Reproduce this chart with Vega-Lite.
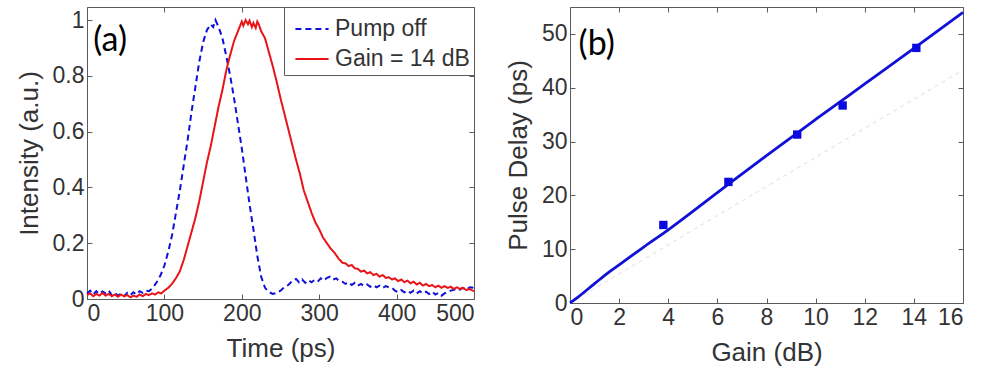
{
  "$schema": "https://vega.github.io/schema/vega-lite/v6.json",
  "padding": {"left": 15, "top": 6, "right": 5, "bottom": 5},
  "bounds": "flush",
  "spacing": 96,
  "resolve": {"legend": {"color": "independent", "strokeDash": "independent"}},
  "config": {
    "font": "Liberation Sans",
    "view": {"stroke": "#5a5a5a", "strokeWidth": 1},
    "axis": {"grid": false, "domain": false, "tickColor": "#5a5a5a", "tickSize": -5, "labelFontSize": 23, "labelColor": "#333", "labelFont": "Liberation Sans", "titleFontSize": 26, "titleFont": "Liberation Sans", "titleColor": "#333", "titleFontWeight": "normal", "labelPadding": 8, "titlePadding": 10},
    "legend": {"orient": "top-right", "offset": 0, "strokeColor": "#5a5a5a", "fillColor": "white", "padding": 4, "labelFontSize": 23, "labelFont": "Liberation Sans", "labelColor": "#333", "symbolType": "stroke", "symbolStrokeWidth": 2, "symbolSize": 1100, "symbolOffset": 6, "labelOffset": 5, "rowPadding": 0}
  },
  "datasets": {
    "pulses": [
      {"t":0,"v":0.02,"s":"Pump off"},{"t":4,"v":0.03,"s":"Pump off"},{"t":8,"v":0.016,"s":"Pump off"},{"t":12,"v":0.028,"s":"Pump off"},{"t":16,"v":0.018,"s":"Pump off"},{"t":20,"v":0.027,"s":"Pump off"},{"t":24,"v":0.02,"s":"Pump off"},{"t":28,"v":0.03,"s":"Pump off"},{"t":32,"v":0.014,"s":"Pump off"},{"t":36,"v":0.022,"s":"Pump off"},{"t":40,"v":0.012,"s":"Pump off"},{"t":44,"v":0.02,"s":"Pump off"},{"t":48,"v":0.01,"s":"Pump off"},{"t":52,"v":0.022,"s":"Pump off"},{"t":56,"v":0.014,"s":"Pump off"},{"t":60,"v":0.024,"s":"Pump off"},{"t":64,"v":0.016,"s":"Pump off"},{"t":68,"v":0.028,"s":"Pump off"},{"t":72,"v":0.022,"s":"Pump off"},{"t":76,"v":0.03,"s":"Pump off"},{"t":80,"v":0.028,"s":"Pump off"},{"t":85,"v":0.04,"s":"Pump off"},{"t":90,"v":0.06,"s":"Pump off"},{"t":95,"v":0.085,"s":"Pump off"},{"t":100,"v":0.12,"s":"Pump off"},{"t":105,"v":0.17,"s":"Pump off"},{"t":110,"v":0.23,"s":"Pump off"},{"t":115,"v":0.31,"s":"Pump off"},{"t":120,"v":0.39,"s":"Pump off"},{"t":125,"v":0.48,"s":"Pump off"},{"t":130,"v":0.57,"s":"Pump off"},{"t":135,"v":0.67,"s":"Pump off"},{"t":140,"v":0.76,"s":"Pump off"},{"t":145,"v":0.85,"s":"Pump off"},{"t":150,"v":0.92,"s":"Pump off"},{"t":155,"v":0.965,"s":"Pump off"},{"t":160,"v":0.985,"s":"Pump off"},{"t":163,"v":0.975,"s":"Pump off"},{"t":166,"v":1.0,"s":"Pump off"},{"t":170,"v":0.975,"s":"Pump off"},{"t":175,"v":0.935,"s":"Pump off"},{"t":180,"v":0.87,"s":"Pump off"},{"t":185,"v":0.8,"s":"Pump off"},{"t":190,"v":0.72,"s":"Pump off"},{"t":195,"v":0.63,"s":"Pump off"},{"t":200,"v":0.54,"s":"Pump off"},{"t":205,"v":0.44,"s":"Pump off"},{"t":210,"v":0.34,"s":"Pump off"},{"t":215,"v":0.25,"s":"Pump off"},{"t":220,"v":0.155,"s":"Pump off"},{"t":225,"v":0.08,"s":"Pump off"},{"t":230,"v":0.04,"s":"Pump off"},{"t":235,"v":0.025,"s":"Pump off"},{"t":240,"v":0.018,"s":"Pump off"},{"t":245,"v":0.022,"s":"Pump off"},{"t":250,"v":0.03,"s":"Pump off"},{"t":255,"v":0.042,"s":"Pump off"},{"t":260,"v":0.05,"s":"Pump off"},{"t":265,"v":0.064,"s":"Pump off"},{"t":270,"v":0.072,"s":"Pump off"},{"t":274,"v":0.06,"s":"Pump off"},{"t":278,"v":0.07,"s":"Pump off"},{"t":282,"v":0.058,"s":"Pump off"},{"t":286,"v":0.068,"s":"Pump off"},{"t":290,"v":0.06,"s":"Pump off"},{"t":294,"v":0.068,"s":"Pump off"},{"t":298,"v":0.062,"s":"Pump off"},{"t":302,"v":0.074,"s":"Pump off"},{"t":306,"v":0.066,"s":"Pump off"},{"t":310,"v":0.076,"s":"Pump off"},{"t":314,"v":0.08,"s":"Pump off"},{"t":318,"v":0.07,"s":"Pump off"},{"t":322,"v":0.074,"s":"Pump off"},{"t":326,"v":0.064,"s":"Pump off"},{"t":330,"v":0.062,"s":"Pump off"},{"t":334,"v":0.054,"s":"Pump off"},{"t":338,"v":0.06,"s":"Pump off"},{"t":342,"v":0.05,"s":"Pump off"},{"t":346,"v":0.058,"s":"Pump off"},{"t":350,"v":0.048,"s":"Pump off"},{"t":354,"v":0.054,"s":"Pump off"},{"t":358,"v":0.046,"s":"Pump off"},{"t":362,"v":0.052,"s":"Pump off"},{"t":366,"v":0.044,"s":"Pump off"},{"t":370,"v":0.05,"s":"Pump off"},{"t":374,"v":0.042,"s":"Pump off"},{"t":378,"v":0.048,"s":"Pump off"},{"t":382,"v":0.04,"s":"Pump off"},{"t":386,"v":0.046,"s":"Pump off"},{"t":390,"v":0.042,"s":"Pump off"},{"t":394,"v":0.04,"s":"Pump off"},{"t":398,"v":0.03,"s":"Pump off"},{"t":402,"v":0.024,"s":"Pump off"},{"t":406,"v":0.032,"s":"Pump off"},{"t":410,"v":0.024,"s":"Pump off"},{"t":414,"v":0.03,"s":"Pump off"},{"t":418,"v":0.022,"s":"Pump off"},{"t":422,"v":0.03,"s":"Pump off"},{"t":426,"v":0.02,"s":"Pump off"},{"t":430,"v":0.028,"s":"Pump off"},{"t":434,"v":0.02,"s":"Pump off"},{"t":438,"v":0.026,"s":"Pump off"},{"t":442,"v":0.018,"s":"Pump off"},{"t":446,"v":0.026,"s":"Pump off"},{"t":450,"v":0.016,"s":"Pump off"},{"t":454,"v":0.022,"s":"Pump off"},{"t":458,"v":0.012,"s":"Pump off"},{"t":462,"v":0.02,"s":"Pump off"},{"t":466,"v":0.026,"s":"Pump off"},{"t":470,"v":0.03,"s":"Pump off"},{"t":475,"v":0.034,"s":"Pump off"},{"t":480,"v":0.03,"s":"Pump off"},{"t":485,"v":0.04,"s":"Pump off"},{"t":490,"v":0.034,"s":"Pump off"},{"t":495,"v":0.042,"s":"Pump off"},{"t":500,"v":0.04,"s":"Pump off"},
      {"t":0,"v":0.014,"s":"Gain = 14 dB"},{"t":4,"v":0.02,"s":"Gain = 14 dB"},{"t":8,"v":0.01,"s":"Gain = 14 dB"},{"t":12,"v":0.018,"s":"Gain = 14 dB"},{"t":16,"v":0.012,"s":"Gain = 14 dB"},{"t":20,"v":0.022,"s":"Gain = 14 dB"},{"t":24,"v":0.012,"s":"Gain = 14 dB"},{"t":28,"v":0.018,"s":"Gain = 14 dB"},{"t":32,"v":0.01,"s":"Gain = 14 dB"},{"t":36,"v":0.016,"s":"Gain = 14 dB"},{"t":40,"v":0.008,"s":"Gain = 14 dB"},{"t":44,"v":0.016,"s":"Gain = 14 dB"},{"t":48,"v":0.01,"s":"Gain = 14 dB"},{"t":52,"v":0.014,"s":"Gain = 14 dB"},{"t":56,"v":0.006,"s":"Gain = 14 dB"},{"t":60,"v":0.012,"s":"Gain = 14 dB"},{"t":64,"v":0.008,"s":"Gain = 14 dB"},{"t":68,"v":0.016,"s":"Gain = 14 dB"},{"t":72,"v":0.01,"s":"Gain = 14 dB"},{"t":76,"v":0.018,"s":"Gain = 14 dB"},{"t":80,"v":0.014,"s":"Gain = 14 dB"},{"t":84,"v":0.02,"s":"Gain = 14 dB"},{"t":88,"v":0.016,"s":"Gain = 14 dB"},{"t":92,"v":0.024,"s":"Gain = 14 dB"},{"t":96,"v":0.02,"s":"Gain = 14 dB"},{"t":100,"v":0.03,"s":"Gain = 14 dB"},{"t":105,"v":0.04,"s":"Gain = 14 dB"},{"t":110,"v":0.055,"s":"Gain = 14 dB"},{"t":115,"v":0.075,"s":"Gain = 14 dB"},{"t":120,"v":0.1,"s":"Gain = 14 dB"},{"t":125,"v":0.14,"s":"Gain = 14 dB"},{"t":130,"v":0.19,"s":"Gain = 14 dB"},{"t":135,"v":0.24,"s":"Gain = 14 dB"},{"t":140,"v":0.29,"s":"Gain = 14 dB"},{"t":145,"v":0.35,"s":"Gain = 14 dB"},{"t":150,"v":0.42,"s":"Gain = 14 dB"},{"t":155,"v":0.49,"s":"Gain = 14 dB"},{"t":160,"v":0.55,"s":"Gain = 14 dB"},{"t":165,"v":0.62,"s":"Gain = 14 dB"},{"t":170,"v":0.69,"s":"Gain = 14 dB"},{"t":175,"v":0.75,"s":"Gain = 14 dB"},{"t":180,"v":0.82,"s":"Gain = 14 dB"},{"t":185,"v":0.875,"s":"Gain = 14 dB"},{"t":190,"v":0.925,"s":"Gain = 14 dB"},{"t":195,"v":0.96,"s":"Gain = 14 dB"},{"t":200,"v":0.995,"s":"Gain = 14 dB"},{"t":202,"v":0.98,"s":"Gain = 14 dB"},{"t":205,"v":1.0,"s":"Gain = 14 dB"},{"t":208,"v":0.985,"s":"Gain = 14 dB"},{"t":210,"v":0.998,"s":"Gain = 14 dB"},{"t":213,"v":0.975,"s":"Gain = 14 dB"},{"t":215,"v":0.99,"s":"Gain = 14 dB"},{"t":218,"v":0.972,"s":"Gain = 14 dB"},{"t":220,"v":0.995,"s":"Gain = 14 dB"},{"t":222,"v":0.985,"s":"Gain = 14 dB"},{"t":225,"v":0.96,"s":"Gain = 14 dB"},{"t":230,"v":0.935,"s":"Gain = 14 dB"},{"t":235,"v":0.885,"s":"Gain = 14 dB"},{"t":240,"v":0.835,"s":"Gain = 14 dB"},{"t":245,"v":0.78,"s":"Gain = 14 dB"},{"t":250,"v":0.72,"s":"Gain = 14 dB"},{"t":255,"v":0.665,"s":"Gain = 14 dB"},{"t":260,"v":0.61,"s":"Gain = 14 dB"},{"t":265,"v":0.555,"s":"Gain = 14 dB"},{"t":270,"v":0.5,"s":"Gain = 14 dB"},{"t":275,"v":0.45,"s":"Gain = 14 dB"},{"t":280,"v":0.39,"s":"Gain = 14 dB"},{"t":285,"v":0.35,"s":"Gain = 14 dB"},{"t":290,"v":0.31,"s":"Gain = 14 dB"},{"t":295,"v":0.275,"s":"Gain = 14 dB"},{"t":300,"v":0.25,"s":"Gain = 14 dB"},{"t":305,"v":0.22,"s":"Gain = 14 dB"},{"t":310,"v":0.2,"s":"Gain = 14 dB"},{"t":315,"v":0.18,"s":"Gain = 14 dB"},{"t":320,"v":0.165,"s":"Gain = 14 dB"},{"t":325,"v":0.145,"s":"Gain = 14 dB"},{"t":330,"v":0.13,"s":"Gain = 14 dB"},{"t":334,"v":0.128,"s":"Gain = 14 dB"},{"t":338,"v":0.118,"s":"Gain = 14 dB"},{"t":342,"v":0.122,"s":"Gain = 14 dB"},{"t":346,"v":0.11,"s":"Gain = 14 dB"},{"t":350,"v":0.108,"s":"Gain = 14 dB"},{"t":354,"v":0.098,"s":"Gain = 14 dB"},{"t":358,"v":0.102,"s":"Gain = 14 dB"},{"t":362,"v":0.092,"s":"Gain = 14 dB"},{"t":366,"v":0.096,"s":"Gain = 14 dB"},{"t":370,"v":0.086,"s":"Gain = 14 dB"},{"t":374,"v":0.09,"s":"Gain = 14 dB"},{"t":378,"v":0.08,"s":"Gain = 14 dB"},{"t":382,"v":0.086,"s":"Gain = 14 dB"},{"t":386,"v":0.076,"s":"Gain = 14 dB"},{"t":390,"v":0.078,"s":"Gain = 14 dB"},{"t":394,"v":0.07,"s":"Gain = 14 dB"},{"t":398,"v":0.074,"s":"Gain = 14 dB"},{"t":402,"v":0.064,"s":"Gain = 14 dB"},{"t":406,"v":0.07,"s":"Gain = 14 dB"},{"t":410,"v":0.06,"s":"Gain = 14 dB"},{"t":414,"v":0.066,"s":"Gain = 14 dB"},{"t":418,"v":0.056,"s":"Gain = 14 dB"},{"t":422,"v":0.062,"s":"Gain = 14 dB"},{"t":426,"v":0.052,"s":"Gain = 14 dB"},{"t":430,"v":0.058,"s":"Gain = 14 dB"},{"t":434,"v":0.048,"s":"Gain = 14 dB"},{"t":438,"v":0.054,"s":"Gain = 14 dB"},{"t":442,"v":0.046,"s":"Gain = 14 dB"},{"t":446,"v":0.05,"s":"Gain = 14 dB"},{"t":450,"v":0.042,"s":"Gain = 14 dB"},{"t":454,"v":0.048,"s":"Gain = 14 dB"},{"t":458,"v":0.04,"s":"Gain = 14 dB"},{"t":462,"v":0.046,"s":"Gain = 14 dB"},{"t":466,"v":0.04,"s":"Gain = 14 dB"},{"t":470,"v":0.044,"s":"Gain = 14 dB"},{"t":474,"v":0.036,"s":"Gain = 14 dB"},{"t":478,"v":0.042,"s":"Gain = 14 dB"},{"t":482,"v":0.036,"s":"Gain = 14 dB"},{"t":486,"v":0.04,"s":"Gain = 14 dB"},{"t":490,"v":0.032,"s":"Gain = 14 dB"},{"t":494,"v":0.036,"s":"Gain = 14 dB"},{"t":500,"v":0.028,"s":"Gain = 14 dB"}
    ],
    "measured": [
      {"g":3.8,"d":14.5},{"g":6.45,"d":22.5},{"g":9.25,"d":31.3},{"g":11.1,"d":36.7},{"g":14.1,"d":47.4}
    ],
    "fit": [
      {"g":0,"d":0},{"g":0.3,"d":1.0},{"g":1,"d":3.6},{"g":1.6,"d":5.8},{"g":2,"d":7.1},{"g":3,"d":10.4},{"g":4,"d":13.6},{"g":6,"d":20.5},{"g":8,"d":27.4},{"g":10,"d":34.1},{"g":12,"d":40.7},{"g":14,"d":47.3},{"g":16,"d":54}
    ],
    "faint": [
      {"g":0,"d":0},{"g":16,"d":43.3}
    ]
  },
  "hconcat": [
    {
      "width": 387,
      "height": 292,
      "layer": [
        {
          "data": {"name": "pulses"},
          "mark": {"type": "line", "strokeWidth": 2},
          "encoding": {
            "x": {"field": "t", "type": "quantitative", "scale": {"domain": [0, 500], "nice": false}, "axis": {"orient": "bottom", "values": [0,100,200,300,400,500], "title": "Time (ps)"}},
            "y": {"field": "v", "type": "quantitative", "scale": {"domain": [0, 1.047], "nice": false}, "axis": {"orient": "left", "values": [0,0.2,0.4,0.6,0.8,1], "format": "~g", "title": "Intensity (a.u.)"}},
            "color": {"field": "s", "type": "nominal", "scale": {"domain": ["Pump off", "Gain = 14 dB"], "range": ["#1010d8", "#e81418"]}, "legend": {"title": null}},
            "strokeDash": {"field": "s", "type": "nominal", "scale": {"domain": ["Pump off", "Gain = 14 dB"], "range": [[6, 4], [1, 0]]}, "legend": {"title": null}}
          }
        },
        {
          "data": {"name": "pulses"},
          "mark": {"type": "point", "opacity": 0},
          "encoding": {
            "x": {"field": "t", "type": "quantitative", "axis": {"orient": "top", "values": [0,100,200,300,400,500], "labels": false, "title": null}},
            "y": {"field": "v", "type": "quantitative", "axis": {"orient": "right", "values": [0,0.2,0.4,0.6,0.8,1], "labels": false, "title": null}}
          }
        },
        {
          "data": {"values": [{"t": 8, "v": 0.925, "lab": "(a)"}]},
          "mark": {"type": "text", "font": "Lato", "fontSize": 34, "color": "black", "align": "left", "baseline": "middle"},
          "encoding": {
            "x": {"field": "t", "type": "quantitative", "axis": null},
            "y": {"field": "v", "type": "quantitative", "axis": null},
            "text": {"field": "lab"}
          }
        }
      ],
      "resolve": {"axis": {"x": "independent", "y": "independent"}}
    },
    {
      "width": 393,
      "height": 296,
      "layer": [
        {
          "data": {"name": "faint"},
          "mark": {"type": "line", "strokeWidth": 1.2, "color": "#e6e6e6", "strokeDash": [4, 4]},
          "encoding": {
            "x": {"field": "g", "type": "quantitative", "scale": {"domain": [0, 16], "nice": false}, "axis": {"orient": "bottom", "values": [0,2,4,6,8,10,12,14,16], "title": "Gain (dB)"}},
            "y": {"field": "d", "type": "quantitative", "scale": {"domain": [0, 55], "nice": false}, "axis": {"orient": "left", "values": [0,10,20,30,40,50], "title": "Pulse Delay (ps)"}}
          }
        },
        {
          "data": {"name": "fit"},
          "mark": {"type": "line", "strokeWidth": 2.8, "color": "#1010d8", "interpolate": "monotone"},
          "encoding": {
            "x": {"field": "g", "type": "quantitative", "axis": {"orient": "top", "values": [0,2,4,6,8,10,12,14,16], "labels": false, "title": null}},
            "y": {"field": "d", "type": "quantitative", "axis": {"orient": "right", "values": [0,10,20,30,40,50], "labels": false, "title": null}}
          }
        },
        {
          "data": {"name": "measured"},
          "mark": {"type": "square", "size": 70, "filled": true, "color": "#0a0ae0", "opacity": 1},
          "encoding": {
            "x": {"field": "g", "type": "quantitative", "axis": null},
            "y": {"field": "d", "type": "quantitative", "axis": null}
          }
        },
        {
          "data": {"values": [{"g": 0.35, "d": 47.9, "lab": "(b)"}]},
          "mark": {"type": "text", "font": "Lato", "fontSize": 34, "color": "black", "align": "left", "baseline": "middle"},
          "encoding": {
            "x": {"field": "g", "type": "quantitative", "axis": null},
            "y": {"field": "d", "type": "quantitative", "axis": null},
            "text": {"field": "lab"}
          }
        }
      ],
      "resolve": {"axis": {"x": "independent", "y": "independent"}}
    }
  ]
}
